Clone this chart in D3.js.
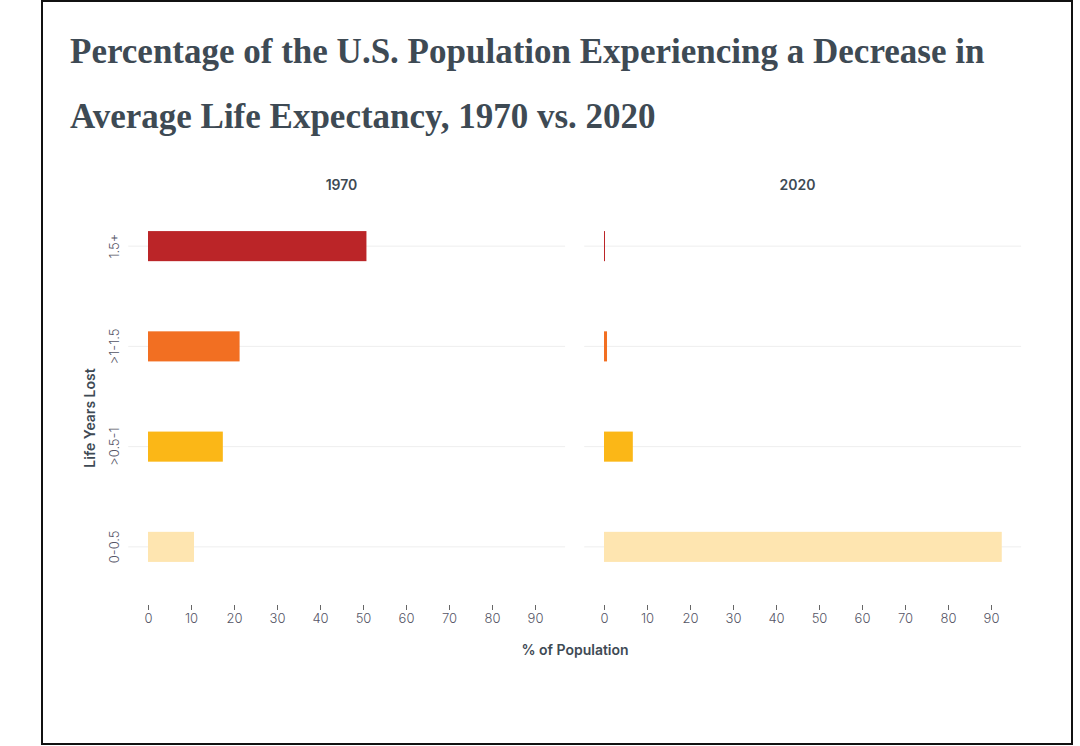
<!DOCTYPE html>
<html><head><meta charset="utf-8">
<script src="https://cdn.jsdelivr.net/npm/d3@7"></script>
<style>body{margin:0;background:#fff}svg{display:block}</style>
</head><body>
<svg id="chart" width="1080" height="746"></svg>
<script>
// data
var categories = ['1.5+', '>1-1.5', '>0.5-1', '0-0.5'];
var panels = ['1970', '2020'];
var values1970 = [50.8, 21.3, 17.4, 10.7];
var values2020 = [0.15, 0.7, 6.7, 92.5];
var colors = ['#bb2528', '#f26f22', '#fbb717', '#fee5b0'];
var ticks = [0, 10, 20, 30, 40, 50, 60, 70, 80, 90];

var svg = d3.select('#chart');
var ink = '#3e4a54';

svg.append('rect').attr('x', 42).attr('y', 1).attr('width', 1030).attr('height', 743)
    .attr('fill', 'none').attr('stroke', '#111').attr('stroke-width', 2);

svg.append('text').attr('x', 70).attr('y', 63).text('Percentage of the U.S. Population Experiencing a Decrease in')
    .attr('font-family', 'Liberation Serif').attr('font-weight', 'bold').attr('font-size', 35).attr('fill', ink);
svg.append('text').attr('x', 70).attr('y', 128).text('Average Life Expectancy, 1970 vs. 2020')
    .attr('font-family', 'Liberation Serif').attr('font-weight', 'bold').attr('font-size', 35).attr('fill', ink);

var y = d3.scaleBand().domain(categories).range([196, 597]).paddingInner(0.7).paddingOuter(0.35);
var panelX = [148, 604];
var series = [values1970, values2020];

panels.forEach(function (p, k) {
    var x = d3.scaleLinear().domain([0, 90]).range([panelX[k], panelX[k] + 387]);
    var g = svg.append('g');

    g.append('text').attr('x', x(45)).attr('y', 190).attr('text-anchor', 'middle').text(p)
        .attr('font-family', 'Inter').attr('font-size', 14).attr('font-weight', 600).attr('fill', ink);

    g.selectAll('.grid').data(categories).enter().append('line')
        .attr('x1', x(-4.6)).attr('x2', x(97)).attr('y1', function (d) { return y(d) + y.bandwidth() / 2; })
        .attr('y2', function (d) { return y(d) + y.bandwidth() / 2; }).attr('stroke', '#eeeeee');

    g.selectAll('.bar').data(series[k]).enter().append('rect')
        .attr('x', x(0)).attr('y', function (d, i) { return y(categories[i]); })
        .attr('width', function (d) { return Math.max(1, x(d) - x(0)); }).attr('height', y.bandwidth())
        .attr('fill', function (d, i) { return colors[i]; });

    var axis = d3.axisBottom(x).tickValues(ticks).tickSize(5).tickPadding(4);
    var ag = g.append('g').attr('transform', 'translate(0,605)').call(axis);
    ag.select('.domain').remove();
    ag.selectAll('line').attr('stroke', '#666');
    ag.selectAll('text').attr('font-family', 'Inter').attr('font-size', 13).attr('font-weight', 300).attr('fill', '#556');
});

svg.append('g').selectAll('text').data(categories).enter().append('text')
    .attr('transform', function (d) { return 'translate(119,' + (y(d) + y.bandwidth() / 2) + ') rotate(-90)'; })
    .attr('text-anchor', 'middle').text(function (d) { return d; })
    .attr('font-family', 'Inter').attr('font-size', 13).attr('font-weight', 300).attr('fill', '#556');

svg.append('text').attr('transform', 'translate(95,418) rotate(-90)').attr('text-anchor', 'middle')
    .text('Life Years Lost').attr('font-family', 'Inter').attr('font-size', 14).attr('font-weight', 600).attr('fill', ink);

svg.append('text').attr('x', 575).attr('y', 655).attr('text-anchor', 'middle').text('% of Population')
    .attr('font-family', 'Inter').attr('font-size', 14).attr('font-weight', 600).attr('fill', ink);
</script>
</body></html>
